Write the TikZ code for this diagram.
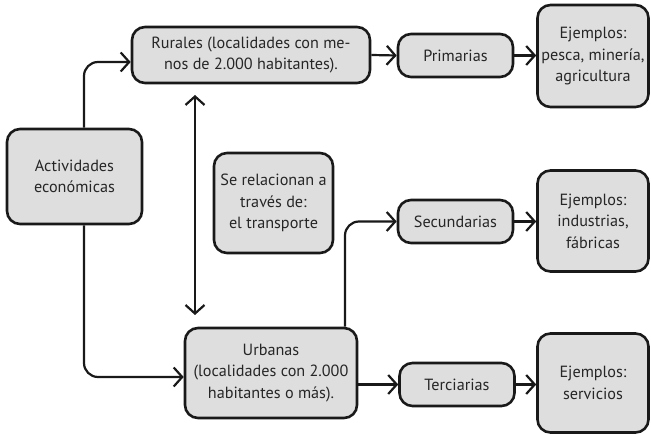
\documentclass[tikz,border=0pt]{standalone}
\usepackage{fontspec}
\setmainfont{PT Sans}
\usetikzlibrary{arrows.meta}
\begin{document}
\begin{tikzpicture}[x=1pt,y=-1pt,
  box/.style={draw=black!90,line width=2.6pt,fill=black!13,rounded corners=13pt,
    align=center,inner sep=0pt,text=black!85,
    font=\fontsize{16.2}{21.5}\selectfont},
  arr/.style={draw=black!90,line width=2.2pt,rounded corners=14pt,
    -{Straight Barb[length=8.5pt,width=19pt,line width=2.2pt]}},
  arrb/.style={draw=black!90,line width=2.2pt,
    {Straight Barb[length=8.5pt,width=19pt,line width=2.2pt]}-{Straight Barb[length=8.5pt,width=19pt,line width=2.2pt]}}]
\useasboundingbox (0,0) rectangle (651,435);
\node[box,minimum width=135pt,minimum height=95pt] (act) at (74.5,176.5) {Actividades\\económicas};
\node[box,minimum width=238pt,minimum height=56pt] (rur) at (251,55) {Rurales (localidades con me-\\nos de 2.000 habitantes).};
\node[box,minimum width=119pt,minimum height=100pt] (rel) at (273.5,203) {Se relacionan a\\través de:\\el transporte};
\node[box,minimum width=172pt,minimum height=90pt] (urb) at (271,373) {Urbanas\\(localidades con 2.000\\habitantes o más).};
\node[box,minimum width=115pt,minimum height=43pt] (pri) at (455.5,55.5) {Primarias};
\node[box,minimum width=115pt,minimum height=43pt] (sec) at (455.5,221.5) {Secundarias};
\node[box,minimum width=115pt,minimum height=43pt] (ter) at (457,384.5) {Terciarias};
\node[box,minimum width=111pt,minimum height=102pt] (ej1) at (593,56) {Ejemplos:\\pesca, minería,\\agricultura};
\node[box,minimum width=111pt,minimum height=101pt] (ej2) at (593,221) {Ejemplos:\\industrias,\\fábricas};
\node[box,minimum width=111pt,minimum height=99pt] (ej3) at (593,383) {Ejemplos:\\servicios};
\coordinate (dtop) at (195,95);
\coordinate (dbot) at (195,315);
\draw[arr] ([xshift=9.5pt]act.north) |- ([yshift=-7pt]rur.west);
\draw[arr] ([xshift=9.5pt]act.south) |- ([yshift=-4pt]urb.west);
\draw[arrb] (dtop) -- (dbot);
\draw[arr] (rur.east) -- (pri.west);
\draw[arr] (pri.east) -- (pri.east -| ej1.west);
\draw[arr] (sec.east) -- (sec.east -| ej2.west);
\draw[arr] (ter.east) -- (ter.east -| ej3.west);
\draw[arr] (urb.east |- ter.west) -- (ter.west);
\draw[arr] ([xshift=74pt]urb.north) |- (sec.west);
\end{tikzpicture}
\end{document}
